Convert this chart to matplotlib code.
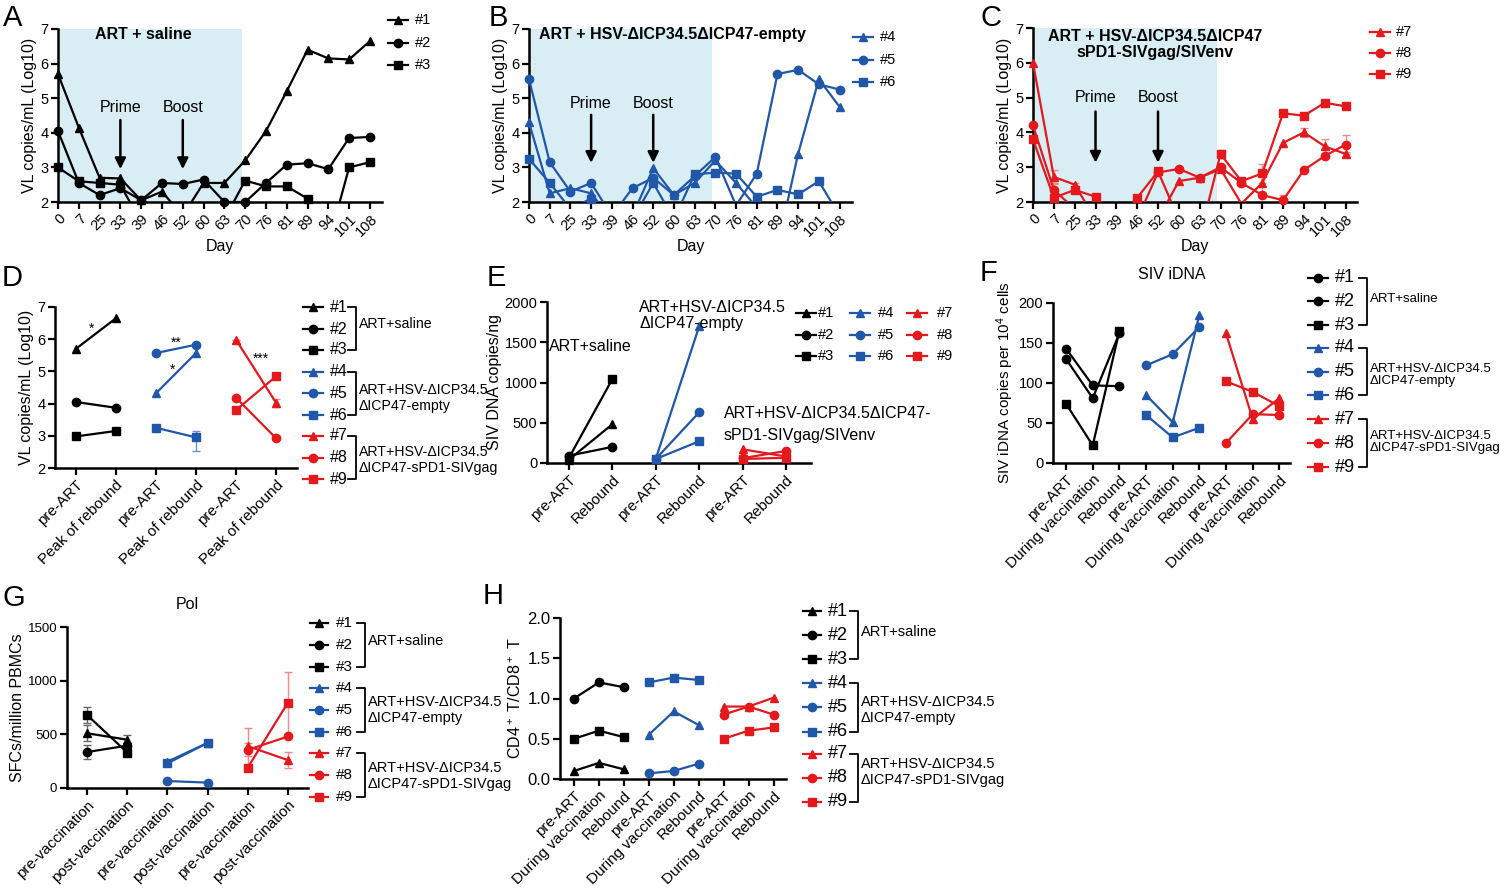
import numpy as np
import matplotlib.pyplot as plt

plt.rcParams['font.family'] = ['Liberation Sans', 'DejaVu Sans']
plt.rcParams['mathtext.default'] = 'regular'

W, H = 1500, 890
BLACK, BLUE, RED = '#000000', '#2157A8', '#E3191E'
LIGHT = {BLACK: '#666666', BLUE: '#6f8fc8', RED: '#f08a8a'}
SHADE = '#d8eef4'

# ---- A-C: viral load over time ----
days = ['0', '7', '25', '33', '39', '46', '52', '60', '63', '70', '76', '81', '89', '94', '101', '108']
# values below 2 = under detection (drawn off the axis)
vl_1 = [5.7, 4.15, 2.7, 2.68, 2.05, 2.3, 1.6, 2.55, 2.55, 3.2, 4.05, 5.2, 6.4, 6.15, 6.12, 6.65]
vl_2 = [4.05, 2.55, 2.2, 2.4, 2.05, 2.55, 2.52, 2.65, 2.0, 2.0, 2.55, 3.08, 3.12, 2.95, 3.85, 3.88]
vl_3 = [3.0, 2.6, 2.55, 2.5, 1.4, 1.4, 1.4, 1.4, 1.5, 2.62, 2.45, 2.45, 2.1, 0.8, 3.0, 3.15]
vl_4 = [4.3, 2.25, 2.4, 2.25, 1.5, 1.6, 2.98, 2.2, 2.55, 3.2, 2.55, 1.84, 0.7, 3.4, 5.55, 4.75]
vl_5 = [5.55, 3.15, 2.3, 2.55, 1.6, 2.4, 2.7, 2.2, 2.75, 3.3, 1.9, 2.82, 5.7, 5.82, 5.4, 5.25]
vl_6 = [3.25, 2.55, 1.8, 2.1, 1.5, 1.5, 2.55, 1.5, 2.8, 2.85, 2.82, 2.15, 2.35, 2.22, 2.6, 1.6]
vl_7 = [6.0, 2.72, 2.5, 1.5, 1.5, 1.5, 1.5, 2.6, 2.7, 2.95, 1.95, 2.55, 3.7, 4.0, 3.6, 3.38]
vl_8 = [4.2, 2.35, 1.8, 1.5, 1.5, 1.5, 2.85, 2.95, 2.7, 3.0, 2.55, 2.2, 2.05, 2.92, 3.32, 3.65]
vl_9 = [3.8, 2.12, 2.35, 2.15, 1.5, 2.12, 2.88, 1.5, 1.0, 3.38, 2.6, 2.82, 4.55, 4.48, 4.85, 4.75]
vl_err_7 = [0, 0.2, 0.05, 0, 0, 0, 0, 0, 0, 0, 0, 0.25, 0, 0.13, 0.2, 0.05]
vl_err_8 = [0, 0.2, 0, 0, 0, 0, 0, 0, 0, 0, 0, 0, 0.15, 0, 0, 0.27]
vl_err_9 = [0, 0.05, 0.05, 0, 0, 0, 0, 0, 0, 0.12, 0.1, 0.28, 0, 0, 0, 0]

# ---- D: pre-ART vs peak of rebound ----
d_labels = ['pre-ART', 'Peak of rebound'] * 3
d_1, d_2, d_3 = [5.7, 6.65], [4.05, 3.87], [2.98, 3.15]
d_4, d_5, d_6 = [4.32, 5.57], [5.57, 5.83], [3.25, 2.95]
d_7, d_8, d_9 = [5.98, 4.02], [4.18, 2.92], [3.8, 4.85]
d_err_6 = [[0.08, 0.43], [0.05, 0.2]]
d_err_7 = [[0, 0.12], [0, 0.12]]

# ---- E: SIV DNA ----
e_labels = ['pre-ART', 'Rebound'] * 3
e_1, e_2, e_3 = [40, 480], [90, 200], [60, 1040]
e_4, e_5, e_6 = [50, 1700], [50, 630], [50, 270]
e_7, e_8, e_9 = [170, 80], [60, 150], [50, 65]

# ---- F: SIV iDNA ----
f_labels = ['pre-ART', 'During vaccination', 'Rebound'] * 3
f_1, f_2, f_3 = [143, 97, 96], [130, 81, 162], [74, 22, 165]
f_4, f_5, f_6 = [85, 51, 185], [122, 136, 170], [60, 32, 44]
f_7, f_8, f_9 = [162, 55, 81], [25, 61, 60], [102, 89, 71]

# ---- G: Pol ELISpot ----
g_labels = ['pre-vaccination', 'post-vaccination'] * 3
g_1, g_2, g_3 = [510, 450], [335, 395], [680, 330]
g_4, g_5, g_6 = [245, 420], [65, 50], [230, 420]
g_7, g_8, g_9 = [390, 260], [355, 480], [190, 795]
g_err_1, g_err_2, g_err_3 = [75, 40], [65, 20], [75, 15]
g_err_7, g_err_8, g_err_9 = [170, 75], [60, 0], [0, 290]

# ---- H: CD4/CD8 ratio ----
h_labels = ['pre-ART', 'During vaccination', 'Rebound'] * 3
h_1, h_2, h_3 = [0.1, 0.2, 0.12], [1.0, 1.2, 1.14], [0.5, 0.6, 0.52]
h_4, h_5, h_6 = [0.55, 0.84, 0.67], [0.07, 0.1, 0.19], [1.2, 1.26, 1.23]
h_7, h_8, h_9 = [0.9, 0.9, 1.01], [0.8, 0.9, 0.8], [0.5, 0.6, 0.64]

fig = plt.figure(figsize=(W / 100, H / 100), dpi=100)


def px_ax(l, t, r, b):
    ax = fig.add_axes([l / W, 1 - b / H, (r - l) / W, (b - t) / H])
    for s in ['top', 'right']:
        ax.spines[s].set_visible(False)
    for s in ['left', 'bottom']:
        ax.spines[s].set_linewidth(1.8)
    ax.tick_params(width=1.6, length=5, labelsize=10.5, pad=2)
    ax.patch.set_alpha(0)
    return ax


def vl_panel(ax, series, xlim):
    x = np.arange(len(days))
    for vals, errs, color, mk in series:
        y = np.array(vals, float)
        ax.plot(x, y, color=color, lw=1.6, zorder=3)
        ax.plot(x, np.where(y >= 2, y, np.nan), ls='none', marker=mk, color=color,
                ms=6, clip_on=False, zorder=4)
        if errs is not None:
            e = np.array(errs, float)
            m = (e > 0) & (y >= 2)
            ax.errorbar(x[m], y[m], yerr=e[m], fmt='none', ecolor=LIGHT[color],
                        capsize=3, lw=1, zorder=2)
    ax.axvspan(0, 8.85, color=SHADE, zorder=0, lw=0)
    ax.set_xlim(*xlim)
    ax.set_ylim(2, 7)
    ax.set_yticks(range(2, 8))
    ax.set_xticks(x)
    ax.set_xticklabels(days, rotation=45, ha='right', rotation_mode='anchor')
    ax.set_xlabel('Day', fontsize=11.5, labelpad=0)
    ax.set_ylabel('VL copies/mL (Log10)', fontsize=11.5, labelpad=2)


def arrows(ax, top, head, ytext):
    for xi, lab in [(3, 'Prime'), (6, 'Boost')]:
        ax.annotate('', xy=(xi, head), xytext=(xi, top),
                    arrowprops=dict(arrowstyle='-|>', lw=1.8, color='k', mutation_scale=16))
        ax.text(xi, ytext, lab, ha='center', va='center', fontsize=11.5)


def group_panel(ax, series, npg, labels, xlim, ylim, yticks):
    for gi, grp in enumerate(series):
        x = np.arange(npg) + gi * npg
        for vals, errs, color, mk in grp:
            ax.plot(x, vals, color=color, lw=1.6, marker=mk, ms=6, clip_on=False, zorder=3)
            if errs is not None:
                ax.errorbar(x, vals, yerr=errs, fmt='none', ecolor=LIGHT[color],
                            capsize=3, lw=1, zorder=2)
    ax.set_xlim(*xlim)
    ax.set_ylim(*ylim)
    ax.set_yticks(yticks)
    ax.set_xticks(np.arange(len(labels)))
    ax.set_xticklabels(labels, rotation=45, ha='right', rotation_mode='anchor', fontsize=11)


# ---------------- A, B, C ----------------
axA = px_ax(58, 29, 382, 202)
vl_panel(axA, [(vl_1, None, BLACK, '^'), (vl_2, None, BLACK, 'o'), (vl_3, None, BLACK, 's')], (0, 15.58))
arrows(axA, 4.45, 2.87, 4.72)
axA.text(1.8, 6.83, 'ART + saline', fontsize=11.5, fontweight='bold', va='center')

axB = px_ax(529, 29, 852, 202)
vl_panel(axB, [(vl_4, None, BLUE, '^'), (vl_5, None, BLUE, 'o'), (vl_6, None, BLUE, 's')], (0, 15.6))
arrows(axB, 4.6, 3.05, 4.85)
axB.text(0.5, 6.83, 'ART + HSV-ΔICP34.5ΔICP47-empty', fontsize=11.5, fontweight='bold', va='center')

axC = px_ax(1033, 28, 1357, 202)
vl_panel(axC, [(vl_7, vl_err_7, RED, '^'), (vl_8, vl_err_8, RED, 'o'), (vl_9, vl_err_9, RED, 's')], (0, 15.55))
arrows(axC, 4.68, 3.05, 5.0)
axC.text(5.85, 6.97, 'ART + HSV-ΔICP34.5ΔICP47\nsPD1-SIVgag/SIVenv', fontsize=11.5,
         fontweight='bold', ha='center', va='top', linespacing=1.05)

# ---------------- D ----------------
axD = px_ax(55, 307, 297, 468)
group_panel(axD, [[(d_1, None, BLACK, '^'), (d_2, None, BLACK, 'o'), (d_3, None, BLACK, 's')],
                  [(d_4, None, BLUE, '^'), (d_5, None, BLUE, 'o'), (d_6, d_err_6, BLUE, 's')],
                  [(d_7, d_err_7, RED, '^'), (d_8, None, RED, 'o'), (d_9, None, RED, 's')]],
            2, d_labels, (-0.52, 5.52), (2, 7), range(2, 8))
axD.set_ylabel('VL copies/mL (Log10)', fontsize=11.5, labelpad=2)
for xs, ys, s in [(0.4, 6.32, '*'), (2.5, 5.88, '**'), (2.42, 5.06, '*'), (4.62, 5.4, '***')]:
    axD.text(xs, ys, s, ha='center', va='center', fontsize=10)

# ---------------- E ----------------
axE = px_ax(547, 302, 811, 463)
group_panel(axE, [[(e_1, None, BLACK, '^'), (e_2, None, BLACK, 'o'), (e_3, None, BLACK, 's')],
                  [(e_4, None, BLUE, '^'), (e_5, None, BLUE, 'o'), (e_6, None, BLUE, 's')],
                  [(e_7, None, RED, '^'), (e_8, None, RED, 'o'), (e_9, None, RED, 's')]],
            2, e_labels, (-0.5, 5.57), (0, 2000), range(0, 2001, 500))
axE.set_ylabel('SIV DNA copies/ng', fontsize=11.5, labelpad=2)
axE.text(-0.45, 1450, 'ART+saline', fontsize=11.5, va='center')
axE.text(1.62, 1830, 'ART+HSV-ΔICP34.5\nΔICP47-empty', fontsize=11.5, va='center', linespacing=1.1)
axE.text(3.57, 620, 'ART+HSV-ΔICP34.5ΔICP47-', fontsize=11.5, va='center')
axE.text(3.57, 345, 'sPD1-SIVgag/SIVenv', fontsize=11.5, va='center')

# ---------------- F ----------------
axF = px_ax(1053, 303, 1290, 463)
group_panel(axF, [[(f_1, None, BLACK, 'o'), (f_2, None, BLACK, 'o'), (f_3, None, BLACK, 's')],
                  [(f_4, None, BLUE, '^'), (f_5, None, BLUE, 'o'), (f_6, None, BLUE, 's')],
                  [(f_7, None, RED, '^'), (f_8, None, RED, 'o'), (f_9, None, RED, 's')]],
            3, f_labels, (-0.49, 8.4), (0, 200), range(0, 201, 50))
axF.set_ylabel('SIV iDNA copies per 10$^4$ cells', fontsize=11, labelpad=2)
axF.set_title('SIV iDNA', fontsize=11.5, pad=17)

# ---------------- G ----------------
axG = px_ax(67, 627, 308, 788)
group_panel(axG, [[(g_1, g_err_1, BLACK, '^'), (g_2, g_err_2, BLACK, 'o'), (g_3, g_err_3, BLACK, 's')],
                  [(g_4, None, BLUE, '^'), (g_5, None, BLUE, 'o'), (g_6, None, BLUE, 's')],
                  [(g_7, g_err_7, RED, '^'), (g_8, g_err_8, RED, 'o'), (g_9, g_err_9, RED, 's')]],
            2, g_labels, (-0.5, 5.5), (0, 1500), range(0, 1501, 500))
axG.tick_params(axis='y', labelsize=9.5)
axG.set_ylabel('SFCs/million PBMCs', fontsize=11.5, labelpad=2)
axG.set_title('Pol', fontsize=11.5, pad=13)

# ---------------- H ----------------
axH = px_ax(560, 618, 786, 779)
group_panel(axH, [[(h_1, None, BLACK, '^'), (h_2, None, BLACK, 'o'), (h_3, None, BLACK, 's')],
                  [(h_4, None, BLUE, '^'), (h_5, None, BLUE, 'o'), (h_6, None, BLUE, 's')],
                  [(h_7, None, RED, '^'), (h_8, None, RED, 'o'), (h_9, None, RED, 's')]],
            3, h_labels, (-0.56, 8.5), (0, 2), [0, 0.5, 1.0, 1.5, 2.0])
axH.yaxis.set_major_formatter(plt.FormatStrFormatter('%.1f'))
axH.tick_params(axis='y', labelsize=12)
axH.set_ylabel('CD4$^+$ T/CD8$^+$ T', fontsize=11.5, labelpad=2)

# ---------------- overlay: legends, brackets, panel letters ----------------
ov = fig.add_axes([0, 0, 1, 1], zorder=10)
ov.set_xlim(0, W)
ov.set_ylim(H, 0)
ov.axis('off')

marks = ['^', 'o', 's']
cols = [BLACK] * 3 + [BLUE] * 3 + [RED] * 3
nums = ['#%d' % i for i in range(1, 10)]


def leg(x0, x1, xt, ys, colors, mks, labels, fs=10.5):
    for y, c, m, lab in zip(ys, colors, mks, labels):
        ov.plot([x0, x1], [y, y], color=c, lw=1.6)
        ov.plot([(x0 + x1) / 2], [y], marker=m, color=c, ms=6)
        ov.text(xt, y, lab, va='center', fontsize=fs)


def bracket(bx, y0, y1, ty, text, fs=10.5):
    ov.plot([bx - 8, bx, bx, bx - 8], [y0, y0, y1, y1], color='k', lw=1.3)
    ov.text(bx + 3, ty, text, va='center', fontsize=fs, linespacing=1.1)


leg(388, 408, 415, [20, 43, 65], [BLACK] * 3, marks, nums[:3])
leg(853, 873, 880, [37, 60, 82], [BLUE] * 3, marks, nums[3:6])
leg(1370, 1390, 1396, [32, 53, 74], [RED] * 3, marks, nums[6:])

grp_texts = ['ART+saline', 'ART+HSV-ΔICP34.5\nΔICP47-empty', 'ART+HSV-ΔICP34.5\nΔICP47-sPD1-SIVgag']

# D legend
ysD = [307, 329, 350, 372, 393, 415, 436, 458, 479]
leg(303, 323, 330, ysD, cols, marks * 3, nums, fs=11.5)
bracket(356, 307, 350, 324, grp_texts[0], fs=10.2)
bracket(356, 372, 415, 398, grp_texts[1], fs=10.2)
bracket(356, 436, 479, 460, grp_texts[2], fs=10.2)

# E legend (3 columns)
for ci, (x0, xt) in enumerate([(796, 818), (850, 878), (907, 937)]):
    leg(x0, x0 + 20, xt, [313, 335, 356], cols[ci * 3:ci * 3 + 3], marks, nums[ci * 3:ci * 3 + 3])

# F legend
ysF = [278, 301, 325, 348, 372, 395, 419, 443, 467]
leg(1308, 1328, 1335, ysF, cols, ['o', 'o', 's'] + marks * 2, nums, fs=13)
bracket(1367, 278, 325, 299, grp_texts[0], fs=9.5)
bracket(1367, 348, 395, 375, grp_texts[1], fs=9.5)
bracket(1367, 419, 467, 442, grp_texts[2], fs=9.5)

# G legend
ysG = [623, 645, 667, 688, 710, 732, 753, 775, 797]
leg(310, 328, 336, ysG, cols, marks * 3, nums, fs=11)
bracket(365, 623, 667, 641, grp_texts[0], fs=10.5)
bracket(365, 688, 732, 710, grp_texts[1], fs=10.5)
bracket(365, 753, 797, 776, grp_texts[2], fs=10.5)

# H legend
ysH = [611, 635, 659, 683, 707, 732, 754, 778, 802]
leg(803, 821, 828, ysH, cols, marks * 3, nums, fs=13)
bracket(858, 611, 659, 632, grp_texts[0], fs=10.5)
bracket(858, 683, 732, 710, grp_texts[1], fs=10.5)
bracket(858, 754, 802, 772, grp_texts[2], fs=10.5)

for lx, ly, let in [(3, 18, 'A'), (489, 18, 'B'), (981, 18, 'C'), (2, 278, 'D'), (487, 278, 'E'),
                    (980, 273, 'F'), (3, 598, 'G'), (483, 596, 'H')]:
    ov.text(lx, ly, let, fontsize=21, va='center', ha='left')

fig.savefig('out.png', dpi=100)
